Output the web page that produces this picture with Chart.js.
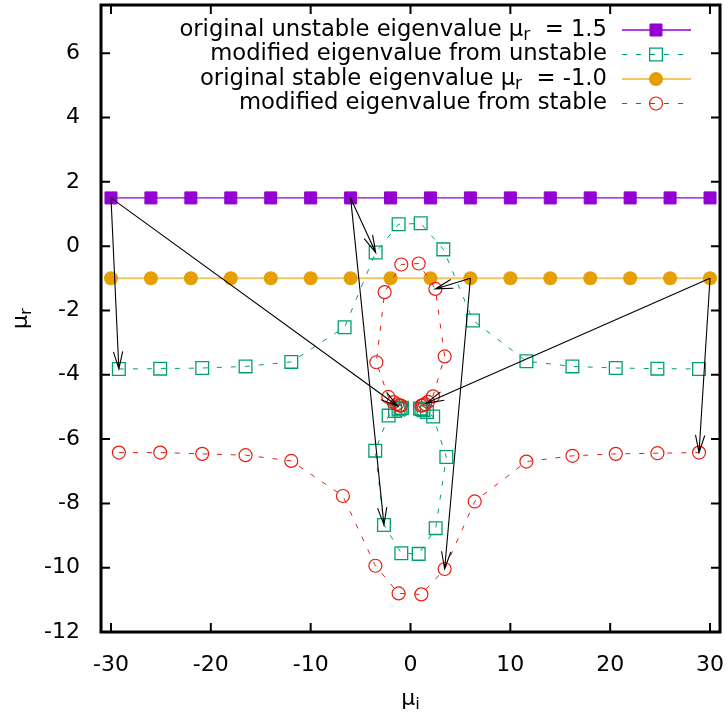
<!DOCTYPE html>
<html>
<head>
<meta charset="utf-8">
<script src="https://cdn.jsdelivr.net/npm/chart.js@4.4.1/dist/chart.umd.min.js"></script>
<style>
    html, body { margin: 0; padding: 0; background: #fff; }
</style>
</head>
<body>
<canvas id="eigenChart" width="728" height="719"></canvas>
<script>
// mu_i of the original eigenvalues
const muI = [-30, -26, -22, -18, -14, -10, -6, -2, 2, 6, 10, 14, 18, 22, 26, 30];
const origUnstable = [1.5, 1.5, 1.5, 1.5, 1.5, 1.5, 1.5, 1.5, 1.5, 1.5, 1.5, 1.5, 1.5, 1.5, 1.5, 1.5];
const origStable = [-1, -1, -1, -1, -1, -1, -1, -1, -1, -1, -1, -1, -1, -1, -1, -1];

// modified eigenvalues from unstable (two branches)
const unstOuterX = [-29.21, -25.07, -20.86, -16.52, -11.94, -6.6, -3.49, -1.19, 1.02, 3.29, 6.26, 11.61, 16.22, 20.56, 24.73, 28.9];
const unstOuterY = [-3.82, -3.81, -3.79, -3.74, -3.6, -2.52, -0.2, 0.68, 0.71, -0.1, -2.31, -3.58, -3.74, -3.79, -3.81, -3.82];
const unstInnerX = [-0.85, -1.0, -1.2, -1.55, -2.19, -3.53, -2.66, -0.92, 0.82, 2.52, 3.59, 2.27, 1.65, 1.3, 1.1, 0.95];
const unstInnerY = [-5.03, -5.05, -5.08, -5.13, -5.27, -6.36, -8.67, -9.55, -9.57, -8.77, -6.56, -5.3, -5.16, -5.1, -5.07, -5.05];

// modified eigenvalues from stable (two branches)
const stabOuterX = [-29.21, -25.07, -20.86, -16.52, -11.94, -6.77, -3.52, -1.19, 1.09, 3.42, 6.43, 11.61, 16.22, 20.56, 24.73, 28.9];
const stabOuterY = [-6.42, -6.42, -6.46, -6.5, -6.68, -7.77, -9.94, -10.8, -10.83, -10.04, -7.94, -6.7, -6.52, -6.46, -6.44, -6.42];
const stabInnerX = [-0.95, -1.1, -1.35, -1.7, -2.22, -3.42, -2.59, -0.92, 0.82, 2.49, 3.42, 2.25, 1.75, 1.45, 1.25, 1.1];
const stabInnerY = [-4.96, -4.95, -4.92, -4.85, -4.69, -3.61, -1.43, -0.57, -0.54, -1.33, -3.43, -4.67, -4.84, -4.91, -4.94, -4.96];

// arrows: original -> modified
const arrowFrom = [[-30, 1.5], [-30, 1.5], [-6, 1.5], [-6, 1.5], [6, -1], [6, -1], [30, -1], [30, -1]];
const arrowTo = [[-29.21, -3.82], [-1.26, -4.98], [-3.49, -0.2], [-2.66, -8.67], [2.49, -1.33], [3.42, -10.04], [28.9, -6.42], [1.6, -4.88]];

const xTicks = [-30, -20, -10, 0, 10, 20, 30];
const yTicks = [-12, -10, -8, -6, -4, -2, 0, 2, 4, 6];

const legendLabels = [
    'original unstable eigenvalue μ_{r}  = 1.5',
    'modified eigenvalue from unstable',
    'original stable eigenvalue μ_{r}  = -1.0',
    'modified eigenvalue from stable'
];

const FONT = '"DejaVu Sans", sans-serif';
const PURPLE = '#9400d3';
const GREEN = '#009e73';
const ORANGE = '#e69f00';
const RED = '#e51e10';

function pts(xs, ys) {
    return xs.map((x, i) => ({ x: x, y: ys[i] }));
}

// dataset styles, reused by the legend
const styleUnstable = {
    borderColor: PURPLE, borderWidth: 1.3,
    pointStyle: 'rect', pointRadius: 8.5, pointBorderWidth: 1,
    pointBackgroundColor: PURPLE, pointBorderColor: PURPLE
};
const styleModUnstable = {
    borderColor: GREEN, borderWidth: 1, borderDash: [5, 9],
    pointStyle: 'rect', pointRadius: 9, pointBorderWidth: 1.3,
    pointBackgroundColor: 'rgba(0,0,0,0)', pointBorderColor: GREEN
};
const styleStable = {
    borderColor: 'rgba(230,159,0,0.6)', borderWidth: 2,
    pointStyle: 'circle', pointRadius: 7, pointBorderWidth: 0,
    pointBackgroundColor: ORANGE, pointBorderColor: ORANGE
};
const styleModStable = {
    borderColor: RED, borderWidth: 1, borderDash: [5, 9],
    pointStyle: 'circle', pointRadius: 6.5, pointBorderWidth: 1.2,
    pointBackgroundColor: 'rgba(0,0,0,0)', pointBorderColor: RED
};
const legendStyles = [styleUnstable, styleModUnstable, styleStable, styleModStable];

// text with gnuplot-like _{sub} markup
function drawRichText(ctx, text, x, y, size, align) {
    const parts = text.split(/_\{(.*?)\}/).map((t, i) => ({ text: t, sub: i % 2 === 1 }));
    let total = 0;
    parts.forEach(p => {
        ctx.font = (p.sub ? size * 0.75 : size) + 'px ' + FONT;
        p.w = ctx.measureText(p.text).width;
        total += p.w;
    });
    let cx = align === 'right' ? x - total : (align === 'center' ? x - total / 2 : x);
    ctx.textAlign = 'left';
    ctx.textBaseline = 'middle';
    parts.forEach(p => {
        ctx.font = (p.sub ? size * 0.75 : size) + 'px ' + FONT;
        ctx.fillText(p.text, cx, p.sub ? y + 6 : y);
        cx += p.w;
    });
}

function drawArrow(ctx, x1, y1, x2, y2) {
    const ang = Math.atan2(y2 - y1, x2 - x1);
    const len = 18, spread = 0.26;
    ctx.beginPath();
    ctx.moveTo(x1, y1);
    ctx.lineTo(x2, y2);
    ctx.moveTo(x2 - len * Math.cos(ang - spread), y2 - len * Math.sin(ang - spread));
    ctx.lineTo(x2, y2);
    ctx.lineTo(x2 - len * Math.cos(ang + spread), y2 - len * Math.sin(ang + spread));
    ctx.stroke();
}

const gnuplotFrame = {
    id: 'gnuplotFrame',
    afterDatasetsDraw(chart) {
        const ctx = chart.ctx;
        const xs = chart.scales.x, ys = chart.scales.y;
        ctx.save();
        ctx.strokeStyle = '#000';
        ctx.lineWidth = 1.1;
        arrowFrom.forEach((f, i) => {
            const t = arrowTo[i];
            drawArrow(ctx, xs.getPixelForValue(f[0]), ys.getPixelForValue(f[1]),
                xs.getPixelForValue(t[0]), ys.getPixelForValue(t[1]));
        });
        ctx.restore();
    },
    afterDraw(chart) {
        const ctx = chart.ctx;
        const a = chart.chartArea;
        const xs = chart.scales.x, ys = chart.scales.y;
        ctx.save();

        // inward tick marks on all four sides
        ctx.strokeStyle = '#000';
        ctx.lineWidth = 2;
        ctx.beginPath();
        xTicks.forEach(v => {
            const px = xs.getPixelForValue(v);
            ctx.moveTo(px, a.bottom); ctx.lineTo(px, a.bottom - 9);
            ctx.moveTo(px, a.top); ctx.lineTo(px, a.top + 9);
        });
        yTicks.forEach(v => {
            const py = ys.getPixelForValue(v);
            ctx.moveTo(a.left, py); ctx.lineTo(a.left + 9, py);
            ctx.moveTo(a.right, py); ctx.lineTo(a.right - 9, py);
        });
        ctx.stroke();

        // border
        ctx.lineWidth = 3;
        ctx.strokeRect(a.left, a.top, a.right - a.left, a.bottom - a.top);

        // legend, top right inside the plot
        ctx.fillStyle = '#000';
        legendLabels.forEach((label, i) => {
            const y = 30 + i * 24.5;
            drawRichText(ctx, label, 607, y, 22.7, 'right');
            const st = legendStyles[i];
            ctx.save();
            ctx.strokeStyle = st.borderColor;
            ctx.lineWidth = st.borderWidth;
            ctx.setLineDash(st.borderDash || []);
            ctx.beginPath();
            ctx.moveTo(622, y); ctx.lineTo(691, y);
            ctx.stroke();
            ctx.setLineDash([]);
            ctx.lineWidth = st.pointBorderWidth;
            ctx.strokeStyle = st.pointBorderColor;
            ctx.fillStyle = st.pointBackgroundColor;
            Chart.helpers.drawPoint(ctx, {
                pointStyle: st.pointStyle, radius: st.pointRadius, rotation: 0,
                borderWidth: st.pointBorderWidth
            }, 656, y);
            ctx.restore();
        });

        // axis titles
        ctx.fillStyle = '#000';
        drawRichText(ctx, 'μ_{i}', (a.left + a.right) / 2, 699, 22, 'center');
        ctx.translate(21, (a.top + a.bottom) / 2);
        ctx.rotate(-Math.PI / 2);
        drawRichText(ctx, 'μ_{r}', 0, 0, 22, 'center');
        ctx.restore();
    }
};

const tickFont = { family: FONT, size: 22 };

// keep the plot box fixed: no extra label overhang padding
function fixPadding(s) {
    s.paddingTop = 0;
    s.paddingBottom = 0;
    s.paddingLeft = 0;
    s.paddingRight = 0;
}

new Chart(document.getElementById('eigenChart').getContext('2d'), {
    type: 'line',
    data: {
        datasets: [
            Object.assign({ data: pts(muI, origUnstable), order: 6 }, styleUnstable),
            Object.assign({ data: pts(unstOuterX, unstOuterY), order: 5 }, styleModUnstable),
            Object.assign({ data: pts(unstInnerX, unstInnerY), order: 4 }, styleModUnstable),
            Object.assign({ data: pts(muI, origStable), order: 3 }, styleStable),
            Object.assign({ data: pts(stabOuterX, stabOuterY), order: 2 }, styleModStable),
            Object.assign({ data: pts(stabInnerX, stabInnerY), order: 1 }, styleModStable)
        ]
    },
    options: {
        responsive: false,
        animation: false,
        layout: { autoPadding: false, padding: { left: 0, right: 8, top: 5, bottom: 0 } },
        elements: { line: { tension: 0, fill: false } },
        plugins: {
            legend: { display: false },
            tooltip: { enabled: false }
        },
        scales: {
            x: {
                type: 'linear',
                min: -31,
                max: 31,
                grid: { display: false },
                border: { display: false },
                ticks: { font: tickFont, color: '#000', padding: 12, maxRotation: 0 },
                afterBuildTicks: s => { s.ticks = xTicks.map(v => ({ value: v })); },
                afterFit: s => { s.height = 87; fixPadding(s); }
            },
            y: {
                type: 'linear',
                min: -12,
                max: 7.5,
                grid: { display: false },
                border: { display: false },
                ticks: { font: tickFont, color: '#000', padding: 13 },
                afterBuildTicks: s => { s.ticks = yTicks.map(v => ({ value: v })); },
                afterFit: s => { s.width = 101; fixPadding(s); }
            }
        }
    },
    plugins: [gnuplotFrame]
});
</script>
</body>
</html>
